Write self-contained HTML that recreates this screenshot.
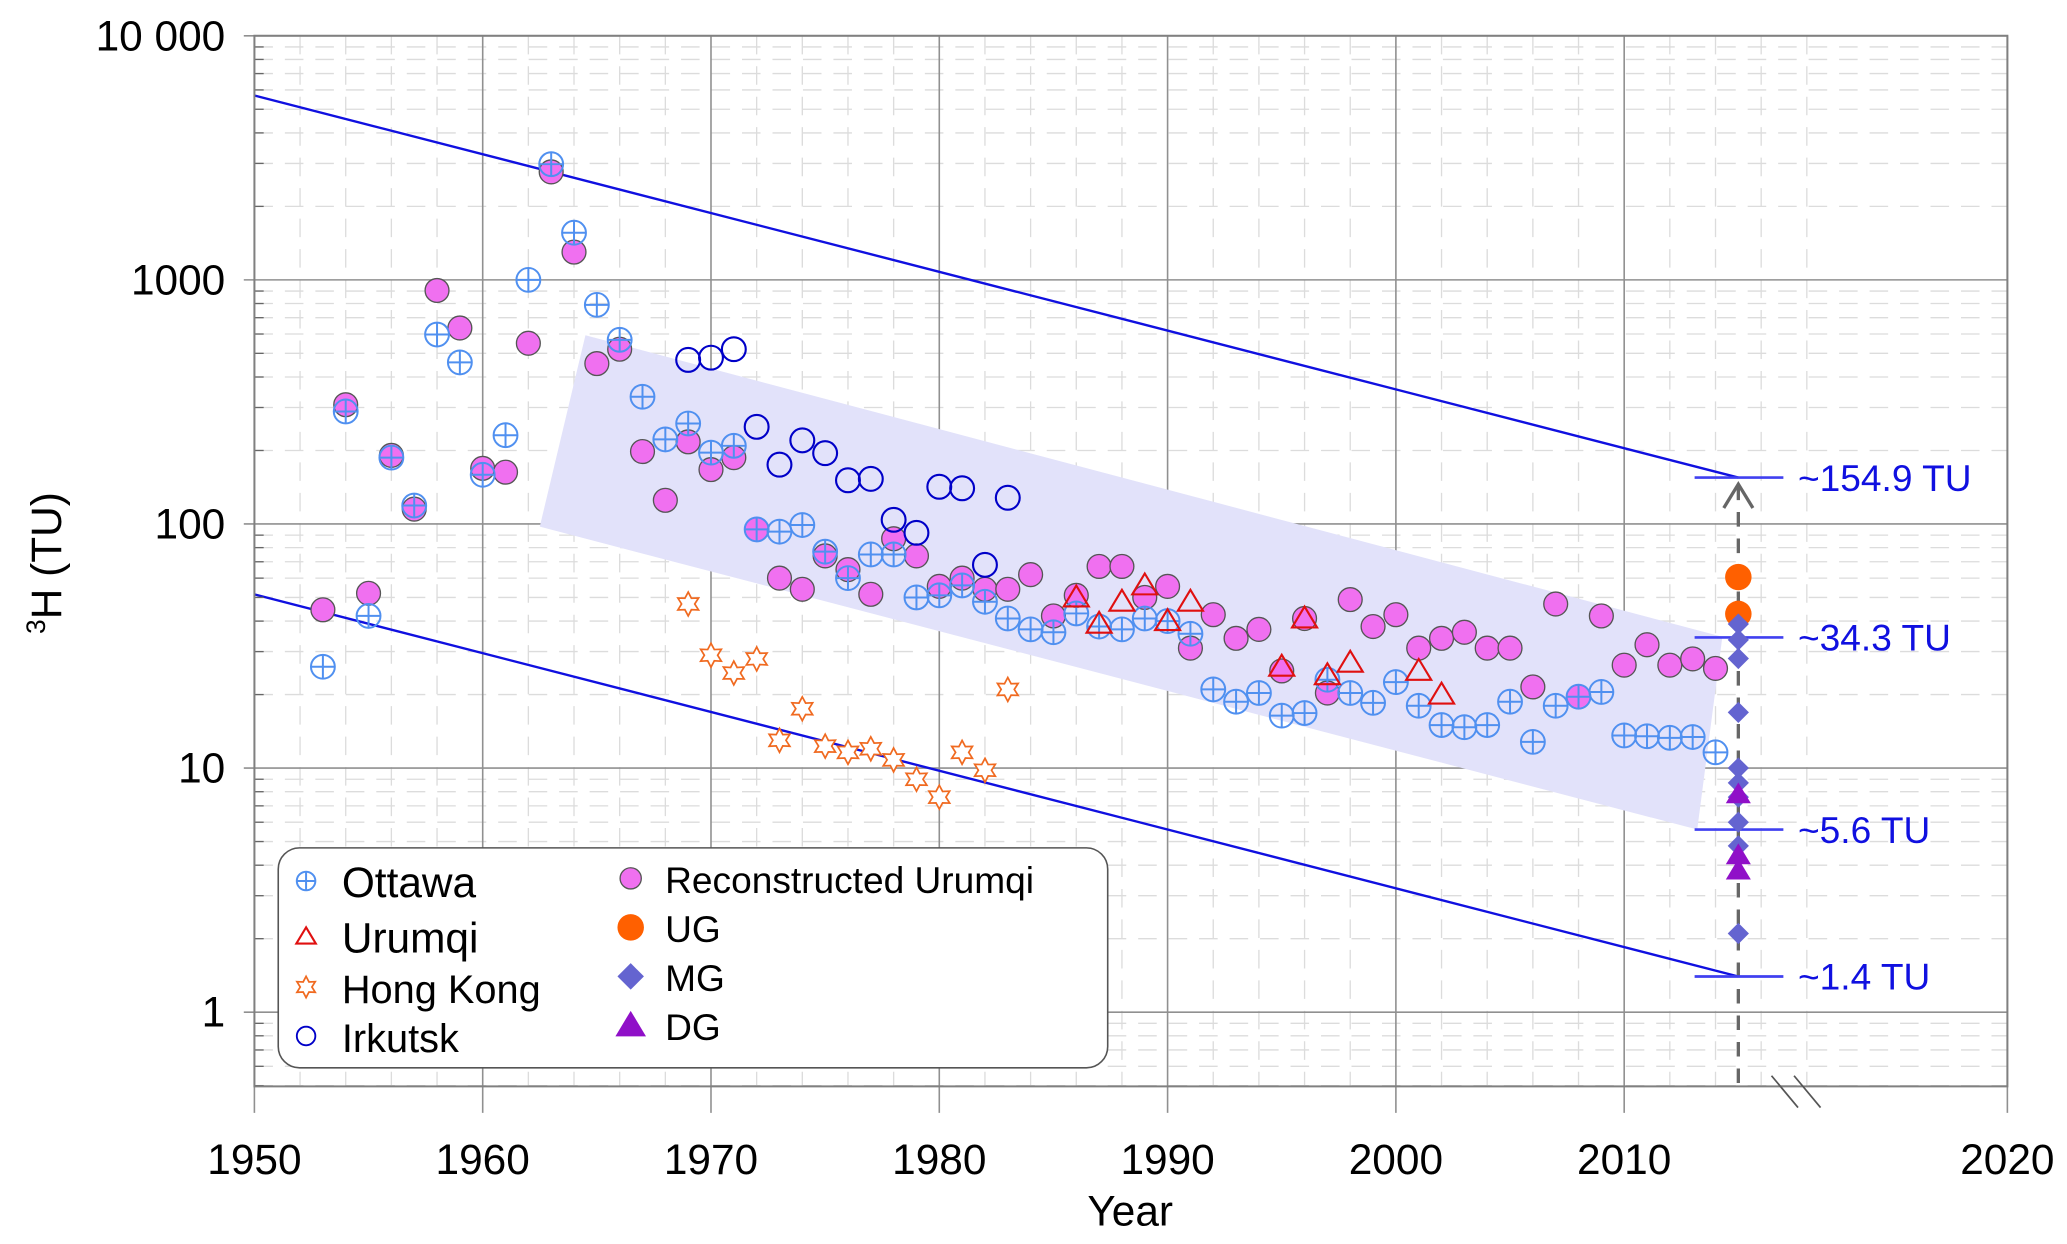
<!DOCTYPE html>
<html><head><meta charset="utf-8"><style>
html,body{margin:0;padding:0;background:#fff;}
svg{display:block;font-family:"Liberation Sans",Arial,sans-serif;}
</style></head><body>
<svg id="chart" width="2067" height="1244" viewBox="0 0 1560 939" preserveAspectRatio="none" xmlns="http://www.w3.org/2000/svg">
<g id="grid"></g>
<g id="marks"></g>
<g id="axes"></g>
<g id="legend"></g>
</svg>
<script>
const ottawaYears=[1953,1954,1955,1956,1957,1958,1959,1960,1961,1962,1963,1964,1965,1966,1967,1968,1969,1970,1971,1972,1973,1974,1975,1976,1977,1978,1979,1980,1981,1982,1983,1984,1985,1986,1987,1988,1989,1990,1991,1992,1993,1994,1995,1996,1997,1998,1999,2000,2001,2002,2003,2004,2005,2006,2007,2008,2009,2010,2011,2012,2013,2014];
const ottawaValues=[26,289,42,187,119,597,459,159,231,1000,2978,1560,790,568,332,222,258,196,209,95,93,99,77,60,75,75,50,51,56,48,41,37,36,43,38,37,41,40,35.5,21,18.7,20.3,16.4,16.8,23,20.3,18.5,22.5,18,15,14.7,15,18.7,12.8,18,19.6,20.5,13.6,13.5,13.3,13.4,11.6];
const reconYears=ottawaYears;
const reconValues=[44.5,308,52,191,115,905,635,169,163,550,2770,1300,454,520,198,125,217,167,187,95,60,54,74,65,51.5,87,74,55.5,60,54,54,62,42,51,67,67,50,55.5,31,42.5,34,37,25,41,20.3,49,38,42.5,31,34,36,31,31,21.5,47,19.6,42,26.4,32,26.4,28,25.6];
const urumqiYears=[1986,1987,1988,1989,1990,1991,1995,1996,1997,1998,2001,2002];
const urumqiValues=[50,39,48,56,40,48,26,41,24,27,25,20];
const hkYears=[1969,1970,1971,1972,1973,1974,1975,1976,1977,1978,1979,1980,1981,1982,1983];
const hkValues=[47,29,24.5,28,13,17.5,12.3,11.6,12,10.8,9,7.6,11.6,9.8,21];
const irkYears=[1969,1970,1971,1972,1973,1974,1975,1976,1977,1978,1979,1980,1981,1982,1983];
const irkValues=[470,480,520,250,175,220,195,151,153,104,92,142,140,68,128];
const sampleYear=2015;
const ugValues=[60.6,42.8];
const mgValues=[38.9,33.5,28.1,16.9,10,8.7,7.6,6.0,4.8,2.1];
const dgValues=[8.0,4.5,3.9];
const refLevels=[154.9,34.3,5.6,1.4];
const refLabels=["~154.9 TU","~34.3 TU","~5.6 TU","~1.4 TU"];
const halfLife=12.5;
const bandYears=[1964.5,2014.3,2013.2,1962.5];
const bandValues=[593,34.5,5.6,97.5];
const xTickYears=[1950,1960,1970,1980,1990,2000,2010,2020];
const yTickValues=[1,10,100,1000,10000];
const yTickLabels=["1","10","100","1000","10 000"];

const NS="http://www.w3.org/2000/svg";
const L=192,R=1515,T=27,B=820;
function xs(yr){return yr>2016.5?R:L+(yr-1950)*17.23;}
function ys(v){return T+(4-Math.log10(v))*184.25;}
function mk(tag,attrs,parent){const e=document.createElementNS(NS,tag);for(const k in attrs)e.setAttribute(k,attrs[k]);parent.appendChild(e);return e;}
const grid=document.getElementById('grid'),marks=document.getElementById('marks'),axes=document.getElementById('axes'),legend=document.getElementById('legend');

for(let d=-1;d<4;d++)for(let m=2;m<10;m++){const v=m*Math.pow(10,d);const y=ys(v);if(y>B||y<T)continue;
 const g=mk('line',{x1:L,x2:R,y1:y,y2:y,stroke:'#dcdcdc','stroke-width':1,'stroke-dasharray':'14,9'},grid);
 
 const t=mk('line',{x1:L,x2:L+7,y1:y,y2:y,stroke:'#666','stroke-width':1},axes);
 }
for(let yr=1952;yr<=2018;yr+=2){if(yr%10===0)continue;
 const xx=L+(yr-1950)*17.23;if(xx>=R)continue;
 const g=mk('line',{x1:xx,x2:xx,y1:T,y2:B,stroke:'#dcdcdc','stroke-width':1,'stroke-dasharray':'14,9'},grid);
 }
yTickValues.forEach((v,i)=>{const y=ys(v);
 const g=mk('line',{x1:L-8,x2:R,y1:y,y2:y,stroke:'#909090','stroke-width':1.2},grid);
 
 const t=mk('text',{x:L-22,y:y+11,'text-anchor':'end','font-size':32,fill:'#000'},axes);t.textContent=yTickLabels[i];
 });
xTickYears.forEach(yr=>{const x=xs(yr);
 const g=mk('line',{x1:x,x2:x,y1:T,y2:B+20,stroke:'#909090','stroke-width':1.2},grid);
 
 const t=mk('text',{x:x,y:886,'text-anchor':'middle','font-size':32,fill:'#000'},axes);t.textContent=yr;
 });
const fr=mk('path',{d:`M${L},${T}H${R}V${B}H${L}Z`,fill:'none',stroke:'#808080','stroke-width':1.5},axes);

[1345,1362].forEach(x=>{const b=mk('line',{x1:x-8,y1:812,x2:x+12,y2:836,stroke:'#555','stroke-width':1.3},axes);
 });
let t=mk('text',{x:853,y:925,'text-anchor':'middle','font-size':32},axes);t.textContent='Year';

t=mk('text',{x:0,y:0,'text-anchor':'middle','font-size':32,transform:'translate(46,425) rotate(-90)'},axes);
t.innerHTML='<tspan font-size="20" dy="-12">3</tspan><tspan dy="12">H (TU)</tspan>';


const bp=bandYears.map((yr,i)=>xs(yr)+','+ys(bandValues[i])).join(' ');
let e=mk('polygon',{points:bp,fill:'#e2e2fa'},marks);

[refLevels[0],refLevels[3]].forEach(v=>{const l=mk('line',{x1:xs(1950),y1:ys(v*Math.pow(2,(sampleYear-1950)/halfLife)),x2:xs(sampleYear),y2:ys(v),stroke:'#1010e0','stroke-width':1.8},marks);
 });
const sx=xs(sampleYear);
e=mk('line',{x1:sx,x2:sx,y1:ys(refLevels[0])+6,y2:B,stroke:'#666','stroke-width':2.5,'stroke-dasharray':'11,9'},marks);

e=mk('path',{d:`M${sx-11},${ys(refLevels[0])+23}L${sx},${ys(refLevels[0])+5}L${sx+11},${ys(refLevels[0])+23}`,fill:'none',stroke:'#666','stroke-width':2.5},marks);

refLevels.forEach((v,i)=>{const y=ys(v);
 const l=mk('line',{x1:sx-33,x2:sx+34,y1:y,y2:y,stroke:'#4040f0','stroke-width':2},marks);
 
 const tx=mk('text',{x:1357,y:y+10,'font-size':28,fill:'#1010e0'},marks);tx.textContent=refLabels[i];
 });

function circ(p,x,y,r,fill,stroke,sw,name){const c=mk('circle',{cx:x,cy:y,r:r,fill:fill,stroke:stroke,'stroke-width':sw},p);
 return c;}
function ottawa(p,x,y,r){const g=mk('g',{},p);
 mk('circle',{cx:x,cy:y,r:r,fill:'none',stroke:'#5090f0','stroke-width':1.5},g);
 mk('path',{d:`M${x-r},${y}H${x+r}M${x},${y-r}V${y+r}`,stroke:'#5090f0','stroke-width':1.5},g);}
function tri(p,x,y,s,fill,stroke,name){const e=mk('polygon',{points:`${x},${y-s} ${x-s*1.05},${y+s*0.75} ${x+s*1.05},${y+s*0.75}`,fill:fill,stroke:stroke,'stroke-width':1.6},p);
 }
function star(p,x,y,r){let pts=[];for(let k=0;k<12;k++){const a=-Math.PI/2+k*Math.PI/6;const rr=k%2?r*0.55:r;pts.push((x+rr*Math.cos(a)).toFixed(1)+','+(y+rr*Math.sin(a)).toFixed(1));}
 const e=mk('polygon',{points:pts.join(' '),fill:'#fff',stroke:'#f06a20','stroke-width':1.3},p);
 }
function diamond(p,x,y,s){const e=mk('polygon',{points:`${x},${y-s} ${x+s},${y} ${x},${y+s} ${x-s},${y}`,fill:'#6464d0'},p);
 }

reconYears.forEach((yr,i)=>circ(marks,xs(yr),ys(reconValues[i]),9,'#f070f0','#555',1,'reconstructed-urumqi-point'));
ottawaYears.forEach((yr,i)=>ottawa(marks,xs(yr),ys(ottawaValues[i]),9));
urumqiYears.forEach((yr,i)=>tri(marks,xs(yr),ys(urumqiValues[i]),9,'none','#e01010','urumqi-point'));
hkYears.forEach((yr,i)=>star(marks,xs(yr),ys(hkValues[i]),9));
irkYears.forEach((yr,i)=>circ(marks,xs(yr),ys(irkValues[i]),9,'none','#0000c8',1.6,'irkutsk-point'));
ugValues.forEach(v=>circ(marks,sx,ys(v),10,'#ff6000','none',0,'ug-point'));
mgValues.forEach(v=>diamond(marks,sx,ys(v),8));
dgValues.forEach(v=>tri(marks,sx,ys(v)+2,9,'#9010c8','none','dg-point'));

e=mk('rect',{x:210,y:640,width:626,height:166,rx:16,fill:'#fff',stroke:'#555','stroke-width':1.2},legend);

function ltext(x,y,s,str){const tx=mk('text',{x:x,y:y,'font-size':s},legend);tx.textContent=str;
 }
ottawa(legend,231,665,7);ltext(258,677,32,'Ottawa');
tri(legend,231,707,7,'none','#e01010','legend-urumqi-marker');ltext(258,719,32,'Urumqi');
star(legend,231,745,8);ltext(258,757,30,'Hong Kong');
circ(legend,231,782,7,'none','#0000c8',1.4,'legend-irkutsk-marker');ltext(258,794,30,'Irkutsk');
circ(legend,476,663,8,'#f070f0','#555',1,'legend-recon-marker');ltext(502,674,28,'Reconstructed Urumqi');
circ(legend,476,700,10,'#ff6000','none',0,'legend-ug-marker');ltext(502,711,28,'UG');
diamond(legend,476,737,10);ltext(502,748,28,'MG');
tri(legend,476,774,11,'#9010c8','none','legend-dg-marker');ltext(502,785,28,'DG');
</script>
</body></html>
